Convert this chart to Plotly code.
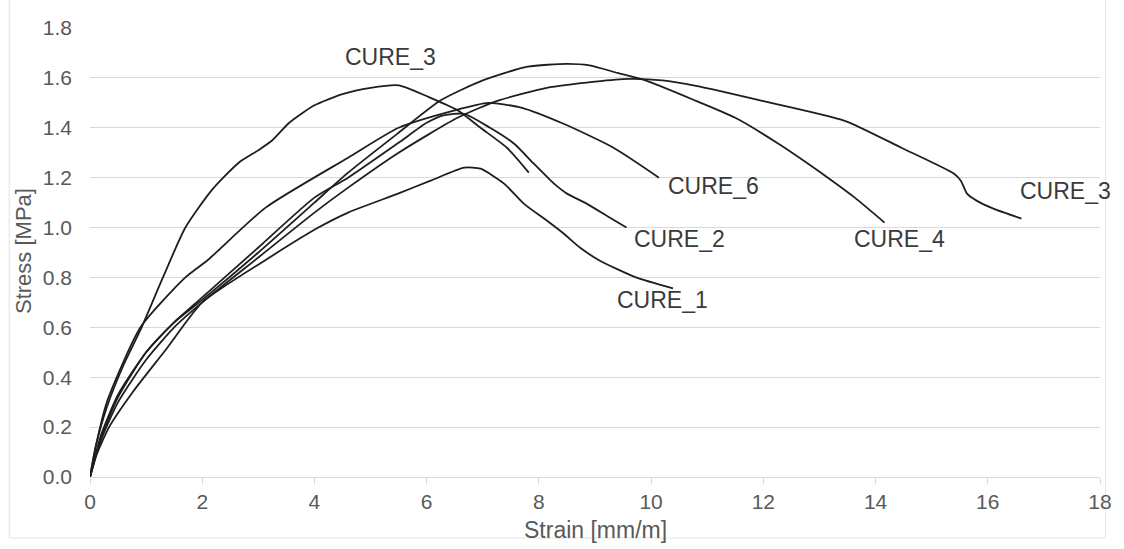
import plotly.graph_objects as go

# Stress-strain curves of the cured specimens (strain in mm/m, stress in MPa)
cure1_strain = [0, 0.1, 0.34, 0.76, 1.35, 2.0, 3.13, 4.07, 4.6, 5.49, 6.07, 6.67, 6.96, 7.38, 7.73, 8.14, 8.44, 8.73, 9.08, 9.73, 10.39]
cure1_stress = [0, 0.08, 0.2, 0.34, 0.51, 0.70, 0.87, 1.0, 1.06, 1.136, 1.188, 1.24, 1.236, 1.176, 1.096, 1.028, 0.976, 0.92, 0.868, 0.80, 0.756]

cure2_strain = [0, 0.2, 0.5, 1.0, 1.5, 2.0, 3.0, 4.0, 4.6, 5.5, 6.0, 6.3, 6.67, 7.13, 7.56, 7.91, 8.27, 8.5, 8.85, 9.26, 9.56]
cure2_stress = [0, 0.16, 0.32, 0.5, 0.62, 0.72, 0.92, 1.12, 1.2, 1.34, 1.42, 1.45, 1.456, 1.40, 1.336, 1.256, 1.176, 1.136, 1.096, 1.04, 1.0]

cure3a_strain = [0, 0.1, 0.3, 0.6, 0.92, 1.3, 1.7, 2.17, 2.65, 3.0, 3.25, 3.55, 4.0, 4.5, 5.0, 5.5, 6.07, 6.55, 6.96, 7.43, 7.82]
cure3a_stress = [0, 0.12, 0.28, 0.45, 0.6, 0.8, 1.0, 1.15, 1.26, 1.31, 1.35, 1.42, 1.49, 1.535, 1.56, 1.57, 1.52, 1.47, 1.40, 1.32, 1.22]

cure3b_strain = [0, 0.2, 0.5, 1.0, 1.5, 2.0, 3.0, 4.0, 4.6, 5.5, 6.55, 7.26, 8.14, 9.0, 9.6, 10.2, 10.8, 11.98, 13.45, 14.46, 15.4, 15.52, 15.63, 15.8, 16.1, 16.6]
cure3b_stress = [0, 0.15, 0.3, 0.47, 0.6, 0.7, 0.88, 1.06, 1.16, 1.30, 1.44, 1.508, 1.56, 1.585, 1.596, 1.59, 1.568, 1.508, 1.428, 1.32, 1.216, 1.188, 1.136, 1.108, 1.076, 1.036]

cure4_strain = [0, 0.2, 0.5, 1.0, 1.5, 2.0, 3.0, 4.0, 4.6, 5.5, 6.25, 7.0, 7.8, 8.5, 8.9, 9.4, 9.9, 10.8, 11.5, 12.27, 13.15, 13.63, 14.16]
cure4_stress = [0, 0.17, 0.33, 0.5, 0.62, 0.71, 0.9, 1.1, 1.22, 1.38, 1.51, 1.59, 1.645, 1.656, 1.65, 1.62, 1.59, 1.508, 1.44, 1.336, 1.2, 1.12, 1.02]

cure6_strain = [0, 0.1, 0.3, 0.9, 1.7, 2.1, 3.13, 4.6, 5.5, 6.5, 7.1, 7.7, 8.44, 9.33, 10.14]
cure6_stress = [0, 0.12, 0.3, 0.6, 0.8, 0.87, 1.08, 1.28, 1.40, 1.47, 1.50, 1.48, 1.416, 1.32, 1.2]

# Curve labels and where they sit in data coordinates
label_text = ["CURE_3", "CURE_6", "CURE_2", "CURE_4", "CURE_3", "CURE_1"]
label_x = [5.35, 11.12, 10.51, 14.42, 17.38, 10.21]
label_y = [1.684, 1.168, 0.956, 0.956, 1.148, 0.708]

x_ticks = [0, 2, 4, 6, 8, 10, 12, 14, 16, 18]
y_ticks = [0.0, 0.2, 0.4, 0.6, 0.8, 1.0, 1.2, 1.4, 1.6, 1.8]

FONT = "Liberation Sans, Arial, sans-serif"
AXIS_GREY = "#595959"
LINE_COLOR = "#1e1e1e"

curves = [
    (cure1_strain, cure1_stress),
    (cure2_strain, cure2_stress),
    (cure3a_strain, cure3a_stress),
    (cure3b_strain, cure3b_stress),
    (cure4_strain, cure4_stress),
    (cure6_strain, cure6_stress),
]

fig = go.Figure()
for xs, ys in curves:
    fig.add_trace(go.Scatter(
        x=xs, y=ys, mode="lines",
        line=dict(color=LINE_COLOR, width=1.8, shape="spline", smoothing=0.6),
        showlegend=False, hoverinfo="skip",
    ))

for t, lx, ly in zip(label_text, label_x, label_y):
    fig.add_annotation(x=lx, y=ly, text=t, showarrow=False,
                       font=dict(family=FONT, size=23, color="#3a3a3a"))

# Axis titles
fig.add_annotation(xref="paper", yref="paper", x=0.5, y=-0.118, yanchor="middle",
                   text="Strain [mm/m]", showarrow=False,
                   font=dict(family=FONT, size=23, color=AXIS_GREY))
fig.add_annotation(xref="paper", yref="paper", x=-0.0665, y=0.503, xanchor="center",
                   yanchor="middle", text="Stress [MPa]", textangle=-90, showarrow=False,
                   font=dict(family=FONT, size=22, color=AXIS_GREY))

# Thin chart-area frame
fig.add_shape(type="rect", xref="paper", yref="paper",
              x0=-0.08, x1=1.0056, y0=-0.136, y1=1.3,
              line=dict(color="#e3e3e3", width=1), layer="below")

fig.update_layout(
    width=1124, height=549,
    margin=dict(l=90, r=17, t=28, b=72),
    paper_bgcolor="white", plot_bgcolor="white",
    font=dict(family=FONT, size=21, color=AXIS_GREY),
    xaxis=dict(
        range=[0, 18], tickvals=x_ticks, ticktext=[str(v) for v in x_ticks],
        showgrid=False, zeroline=False,
        showline=True, linecolor="#d9d9d9", linewidth=1,
        ticks="outside", ticklen=6, tickcolor="#d9d9d9",
        tickfont=dict(family=FONT, size=21, color=AXIS_GREY),
    ),
    yaxis=dict(
        range=[0, 1.8], tickvals=y_ticks, ticktext=[f"{v:.1f}" for v in y_ticks],
        showgrid=True, gridcolor="#d9d9d9", gridwidth=1,
        zeroline=False, showline=False, ticks="",
        ticklabelstandoff=17,
        tickfont=dict(family=FONT, size=21, color=AXIS_GREY),
    ),
)

fig.write_html("out.html")
